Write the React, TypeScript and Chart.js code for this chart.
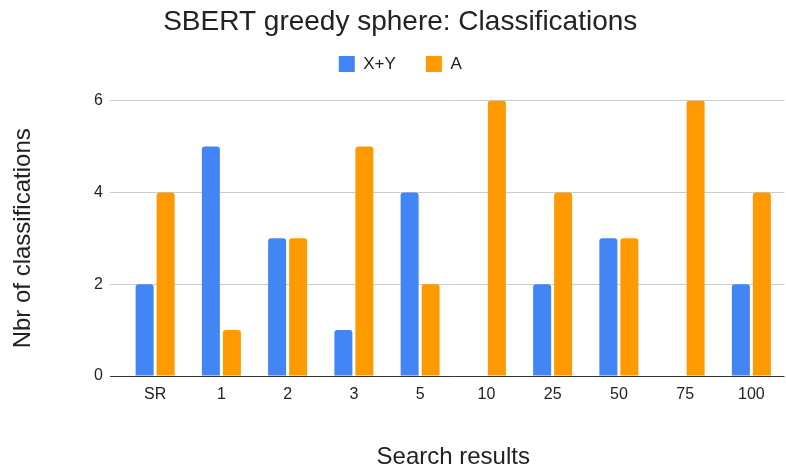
import React, { useEffect, useRef } from "react";
import { Chart, registerables } from "chart.js";

Chart.register(...registerables);

const categories = ["SR", "1", "2", "3", "5", "10", "25", "50", "75", "100"];
const seriesXY = [2, 5, 3, 1, 4, 0, 2, 3, 0, 2];
const seriesA = [4, 1, 3, 5, 2, 6, 4, 3, 6, 4];
const yTicks = [0, 2, 4, 6];

const FONT = "'Liberation Sans', Arial, sans-serif";

const legendSpacer = {
  id: "legendSpacer",
  beforeInit(chart: any) {
    const orig = chart.legend.fit;
    chart.legend.fit = function () {
      orig.bind(chart.legend)();
      this.height += 18;
    };
  },
};

export default function App() {
  const ref = useRef<HTMLCanvasElement | null>(null);
  useEffect(() => {
    if (!ref.current) return;
    const chart = new Chart(ref.current, {
      type: "bar",
      data: {
        labels: categories,
        datasets: [
          {
            label: "X+Y",
            data: seriesXY,
            backgroundColor: "#4285F4",
            borderRadius: 3,
            borderSkipped: "start",
            categoryPercentage: 0.634,
            barPercentage: 0.857,
          },
          {
            label: "A",
            data: seriesA,
            backgroundColor: "#FF9900",
            borderRadius: 3,
            borderSkipped: "start",
            categoryPercentage: 0.634,
            barPercentage: 0.857,
          },
        ],
      },
      plugins: [legendSpacer],
      options: {
        animation: false,
        responsive: true,
        maintainAspectRatio: false,
        layout: { padding: { left: 16, right: 1.5, top: 0, bottom: 0 } },
        plugins: {
          title: {
            display: true,
            text: "SBERT greedy sphere: Classifications",
            color: "#222",
            font: { family: FONT, size: 28, weight: "normal" },
            padding: { top: 5, bottom: -13 },
          },
          legend: {
            position: "top",
            labels: {
              boxWidth: 16,
              boxHeight: 16,
              padding: 30,
              color: "#222",
              font: { family: FONT, size: 17 },
            },
          },
          tooltip: { enabled: false },
        },
        scales: {
          x: {
            grid: { display: false, drawTicks: false },
            border: { display: false },
            ticks: { color: "#222", font: { family: FONT, size: 16 }, padding: 9 },
            title: {
              display: true,
              text: "Search results",
              color: "#222",
              font: { family: FONT, size: 24 },
              padding: { top: 0, bottom: 1 },
            },
            afterFit(scale: any) {
              scale.height = 97;
            },
          },
          y: {
            min: 0,
            max: 6,
            afterBuildTicks(scale: any) {
              scale.ticks = yTicks.map((v) => ({ value: v }));
            },
            grid: {
              color: (ctx: any) => (ctx.tick && ctx.tick.value === 0 ? "#333" : "#cccccc"),
              tickLength: 12,
              drawTicks: true,
              lineWidth: 1,
            },
            border: { display: false },
            ticks: { color: "#222", font: { family: FONT, size: 16 }, padding: 7 },
            title: {
              display: true,
              text: "Nbr of classifications",
              color: "#222",
              font: { family: FONT, size: 24, lineHeight: 1 },
              padding: { top: -5, bottom: 0 },
            },
            afterFit(scale: any) {
              scale.width = 106;
            },
          },
        },
      },
    });
    return () => chart.destroy();
  }, []);
  return (
    <div style={{ position: "absolute", left: 0, top: 0, width: 786, height: 473, background: "#fff" }}>
      <canvas ref={ref} />
    </div>
  );
}
